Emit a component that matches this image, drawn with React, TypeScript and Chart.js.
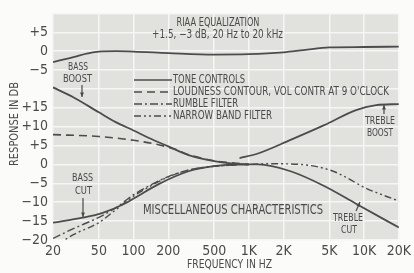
import React, { useEffect, useRef } from "react";
import { Chart, registerables } from "chart.js";

Chart.register(...registerables);

// ---- data (dB vs Hz) ----
const xTickValues = [20, 50, 100, 200, 500, 1000, 2000, 5000, 10000, 20000];
const xTickLabels = ["20", "50", "100", "200", "500", "1K", "2K", "5K", "10K", "20K"];
// y axis: bottom panel real dB, top panel shifted by RIAA_OFFSET
const RIAA_OFFSET = 30;
const topTickLabels = ["+5", "0", "−5"]; // at offset 35, 30, 25
const bottomTickLabels = ["+15", "+10", "+5", "0", "−5", "−10", "−15", "−20"];

const riaaFreq = [20, 30, 40, 50, 70, 100, 200, 500, 1000, 2000, 3000, 5000, 10000, 20000];
const riaaDb = [-2.9, -1.6, -0.6, -0.1, 0, -0.1, -0.5, -0.9, -0.8, -0.3, 0.3, 1.0, 1.1, 1.2];

const bassBoostFreq = [20, 30, 50, 70, 100, 136, 200, 300, 500, 700, 1000];
const bassBoostDb = [20.4, 17.8, 13.8, 11.2, 9.0, 7.0, 4.8, 2.5, 0.9, 0.3, 0];

const bassCutFreq = [20, 36, 54, 86, 111, 165, 300, 510, 800, 1000];
const bassCutDb = [-15.4, -14.1, -12.8, -10.2, -8.2, -5.2, -1.8, -0.4, 0, 0];

const trebleBoostFreq = [830, 1200, 2300, 4500, 8500, 12700, 20000];
const trebleBoostDb = [1.7, 2.9, 6.5, 10.4, 14.4, 15.7, 16.0];

const trebleCutFreq = [1000, 1200, 2300, 4500, 8500, 20000];
const trebleCutDb = [0, 0, -1.8, -5.7, -10.4, -16.7];

const loudnessFreq = [20, 50, 100, 165, 230, 300, 500, 1000];
const loudnessDb = [7.9, 7.4, 6.4, 5.2, 4.0, 2.6, 1.0, 0];

const rumbleFreq = [20, 30, 50, 70, 100, 150, 200, 300, 500, 1000];
const rumbleDb = [-19.6, -17.0, -14.0, -11.5, -8.0, -5.0, -3.2, -1.5, -0.5, 0];

const narrowFreq = [20, 30, 50, 70, 100, 150, 200, 300, 500, 1000, 1450, 2800, 5400, 10400, 20000];
const narrowDb = [-22.0, -18.6, -15.4, -12.0, -8.4, -5.2, -3.3, -1.5, -0.5, 0, 0.2, 0, -1.8, -6.3, -9.7];

const legendLabels = [
  "TONE CONTROLS",
  "LOUDNESS CONTOUR, VOL CONTR AT 9 O'CLOCK",
  "RUMBLE FILTER",
  "NARROW BAND FILTER",
];

const FONT = '"Liberation Sans Narrow", "DejaVu Sans Condensed", "Arial Narrow", sans-serif';
const INK = "#4a4a4a";
const LINE = "#4c4c4c";

const DASH_SOLID: number[] = [];
const DASH_DASHED = [8, 5];
const DASH_DOT = [8, 3, 2, 3];
const DASH_DOTDOT = [7, 3, 2, 3, 2, 3];

function pts(f: number[], d: number[], off = 0) {
  return f.map((v, i) => ({ x: v, y: d[i] + off }));
}

function drawText(
  ctx: CanvasRenderingContext2D,
  s: string,
  x: number,
  y: number,
  size: number,
  width?: number,
  align: "left" | "center" = "center"
) {
  ctx.save();
  ctx.font = `${size}px ${FONT}`;
  ctx.fillStyle = INK;
  ctx.textBaseline = "middle";
  const m = ctx.measureText(s).width;
  const sx = width ? width / m : 1;
  ctx.translate(x, y);
  ctx.scale(sx, 1);
  ctx.textAlign = align;
  ctx.fillText(s, 0, 0);
  ctx.restore();
}

function arrow(ctx: CanvasRenderingContext2D, x1: number, y1: number, x2: number, y2: number) {
  ctx.save();
  ctx.strokeStyle = INK;
  ctx.fillStyle = INK;
  ctx.lineWidth = 1.2;
  ctx.beginPath();
  ctx.moveTo(x1, y1);
  ctx.lineTo(x2, y2);
  ctx.stroke();
  const a = Math.atan2(y2 - y1, x2 - x1);
  const L = 5;
  ctx.beginPath();
  ctx.moveTo(x2, y2);
  ctx.lineTo(x2 - L * Math.cos(a - 0.4), y2 - L * Math.sin(a - 0.4));
  ctx.lineTo(x2 - L * Math.cos(a + 0.4), y2 - L * Math.sin(a + 0.4));
  ctx.closePath();
  ctx.fill();
  ctx.restore();
}

const decorPlugin = {
  id: "decor",
  beforeDraw(chart: any) {
    const { ctx, chartArea: a } = chart;
    ctx.save();
    ctx.fillStyle = "#fbfbf9";
    ctx.fillRect(0, 0, chart.width, chart.height);
    ctx.fillStyle = "#e1e1de";
    ctx.fillRect(a.left, a.top, a.right - a.left, a.bottom - a.top);
    ctx.restore();
  },
  afterDraw(chart: any) {
    const ctx: CanvasRenderingContext2D = chart.ctx;
    // header
    drawText(ctx, "RIAA EQUALIZATION", 218, 23, 12, 83);
    drawText(ctx, "+1.5, −3 dB, 20 Hz to 20 kHz", 152, 35, 12, 131, "left");
    // legend
    const dashes = [DASH_SOLID, DASH_DASHED, DASH_DOT, DASH_DOTDOT];
    const ys = [80, 92, 104, 116];
    const widths = [72, 216, 65, 99];
    ys.forEach((y, i) => {
      ctx.save();
      ctx.strokeStyle = LINE;
      ctx.lineWidth = 1.6;
      ctx.setLineDash(dashes[i]);
      ctx.beginPath();
      ctx.moveTo(134, y);
      ctx.lineTo(172, y);
      ctx.stroke();
      ctx.restore();
      drawText(ctx, legendLabels[i], 173, y, 12, widths[i], "left");
    });
    // curve labels
    drawText(ctx, "BASS", 78, 67, 11, 20);
    drawText(ctx, "BOOST", 77.5, 79, 11, 29);
    arrow(ctx, 82, 85, 82, 97);
    drawText(ctx, "BASS", 82.5, 178, 11, 21);
    drawText(ctx, "CUT", 83.5, 191, 11, 17);
    arrow(ctx, 83, 198, 83, 217);
    drawText(ctx, "TREBLE", 380, 121, 11, 30);
    drawText(ctx, "BOOST", 380, 133, 11, 26);
    arrow(ctx, 384, 114, 384, 105);
    drawText(ctx, "TREBLE", 348, 218, 11, 30);
    drawText(ctx, "CUT", 349, 230, 11, 16);
    arrow(ctx, 356, 211, 360, 202);
    drawText(ctx, "MISCELLANEOUS CHARACTERISTICS", 233, 210, 14, 180);
    // axis titles
    drawText(ctx, "FREQUENCY IN HZ", 229.5, 265, 13, 85);
    ctx.save();
    ctx.translate(15, 124);
    ctx.rotate(-Math.PI / 2);
    drawText(ctx, "RESPONSE IN DB", 0, 0, 13, 84);
    ctx.restore();
  },
};

function ds(data: { x: number; y: number }[], dash: number[], width = 1.8) {
  return {
    data,
    borderColor: LINE,
    borderWidth: width,
    borderDash: dash,
    pointRadius: 0,
    fill: false,
    cubicInterpolationMode: "monotone" as const,
  };
}

export default function App() {
  const ref = useRef<HTMLCanvasElement>(null);
  useEffect(() => {
    document.body.style.margin = "0";
    const canvas = ref.current!;
    const chart = new Chart(canvas, {
      type: "line",
      data: {
        datasets: [
          ds(pts(loudnessFreq, loudnessDb), DASH_DASHED, 1.6),
          ds(pts(rumbleFreq, rumbleDb), DASH_DOT, 1.4),
          ds(pts(narrowFreq, narrowDb), DASH_DOTDOT, 1.4),
          ds(pts(riaaFreq, riaaDb, RIAA_OFFSET), DASH_SOLID),
          ds(pts(bassBoostFreq, bassBoostDb), DASH_SOLID),
          ds(pts(bassCutFreq, bassCutDb), DASH_SOLID),
          ds(pts(trebleBoostFreq, trebleBoostDb), DASH_SOLID),
          ds(pts(trebleCutFreq, trebleCutDb), DASH_SOLID),
        ] as any,
      },
      options: {
        animation: false,
        responsive: false,
        maintainAspectRatio: false,
        events: [],
        layout: { padding: { top: 10, right: 11, left: 0, bottom: 0 } },
        plugins: { legend: { display: false }, tooltip: { enabled: false } },
        scales: {
          x: {
            type: "logarithmic",
            min: 20,
            max: 20000,
            afterBuildTicks: (s: any) => {
              s.ticks = xTickValues.map((v) => ({ value: v }));
            },
            afterFit: (s: any) => {
              s.height = 33;
            },
            ticks: {
              autoSkip: false,
              maxRotation: 0,
              padding: 3,
              color: INK,
              font: { family: FONT, size: 14 },
              callback: (v: any) => {
                const i = xTickValues.indexOf(Number(v));
                return i >= 0 ? xTickLabels[i] : "";
              },
            },
            grid: { color: "#f6f6f4", lineWidth: 1.5, drawTicks: false },
            border: { display: false },
          },
          y: {
            type: "linear",
            min: -20,
            max: 40,
            afterFit: (s: any) => {
              s.width = 53;
            },
            ticks: {
              stepSize: 5,
              autoSkip: false,
              padding: 5,
              color: INK,
              font: { family: FONT, size: 14 },
              callback: (v: any) => {
                const n = Number(v);
                if (n >= 25 && n <= 35) return topTickLabels[(35 - n) / 5];
                if (n <= 15) return bottomTickLabels[(15 - n) / 5];
                return "";
              },
            },
            grid: { color: "#f6f6f4", lineWidth: 1.5, drawTicks: false },
            border: { display: false },
          },
        },
      },
      plugins: [decorPlugin],
    });
    return () => chart.destroy();
  }, []);
  return (
    <div style={{ width: 414, height: 273 }}>
      <canvas ref={ref} width={414} height={273} style={{ display: "block" }} />
    </div>
  );
}
